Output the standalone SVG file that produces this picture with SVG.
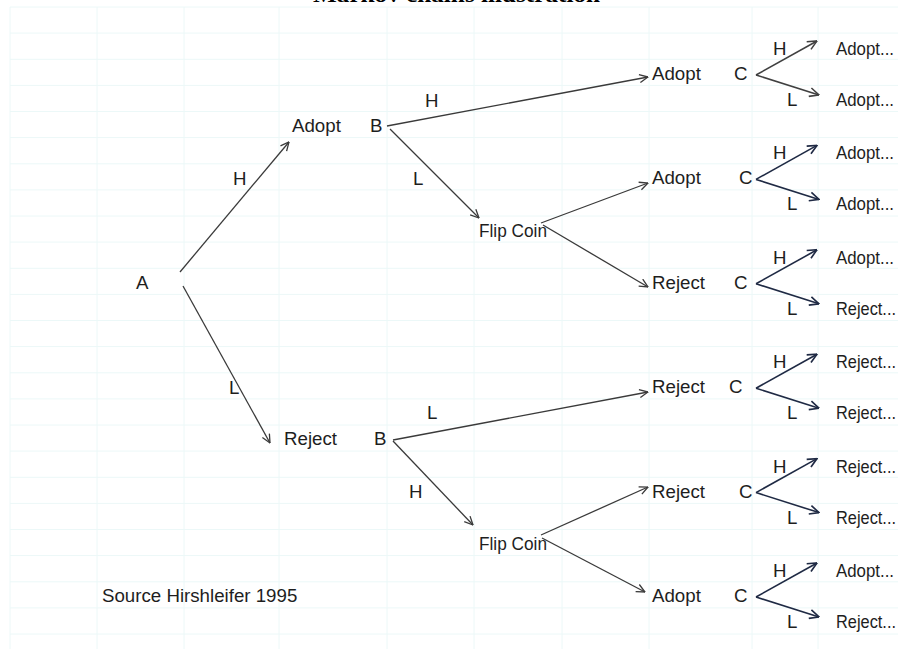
<svg xmlns="http://www.w3.org/2000/svg" width="898" height="649" viewBox="0 0 898 649">
<style>
  text { font-family: "Liberation Sans", Arial, sans-serif; font-size: 18.7px; fill: #1e1e1e; }
  .title { font-family: "Liberation Serif", "Times New Roman", serif; font-size: 24px; font-weight: bold; fill: #000; }
  .grid line { stroke: #ecf8f8; stroke-width: 1; }
  .edge { stroke: #3a3a3a; stroke-width: 1.3; fill: none; marker-end: url(#arr); }
  .fan { stroke: #1f2a44; stroke-width: 1.6; fill: none; marker-end: url(#arr2); }
  .fan1 { stroke: #404040; stroke-width: 1.5; fill: none; marker-end: url(#arr3); }
</style>
<defs>
  <marker id="arr" viewBox="0 0 10 10" refX="9.5" refY="5" markerWidth="10" markerHeight="10" markerUnits="userSpaceOnUse" orient="auto">
    <path d="M1,1 L9.5,5 L1,9" fill="none" stroke="#3a3a3a" stroke-width="1.3"/>
  </marker>
  <marker id="arr2" viewBox="0 0 10 10" refX="9.5" refY="5" markerWidth="11" markerHeight="11" markerUnits="userSpaceOnUse" orient="auto">
    <path d="M1,1 L9.5,5 L1,9" fill="none" stroke="#1f2a44" stroke-width="1.5"/>
  </marker>
  <marker id="arr3" viewBox="0 0 10 10" refX="9.5" refY="5" markerWidth="11" markerHeight="11" markerUnits="userSpaceOnUse" orient="auto">
    <path d="M1,1 L9.5,5 L1,9" fill="none" stroke="#404040" stroke-width="1.4"/>
  </marker>
</defs>
<rect width="898" height="649" fill="#ffffff"/>
<g class="grid">
  <line x1="10" y1="7" x2="10" y2="649"/>
  <line x1="97" y1="7" x2="97" y2="649"/>
  <line x1="184" y1="7" x2="184" y2="649"/>
  <line x1="279" y1="7" x2="279" y2="649"/>
  <line x1="387" y1="7" x2="387" y2="649"/>
  <line x1="474" y1="7" x2="474" y2="649"/>
  <line x1="562" y1="7" x2="562" y2="649"/>
  <line x1="649" y1="7" x2="649" y2="649"/>
  <line x1="752" y1="7" x2="752" y2="649"/>
  <line x1="818" y1="7" x2="818" y2="649"/>
  <line x1="10" y1="7" x2="898" y2="7"/>
  <line x1="10" y1="33.1" x2="898" y2="33.1"/>
  <line x1="10" y1="59.3" x2="898" y2="59.3"/>
  <line x1="10" y1="85.4" x2="898" y2="85.4"/>
  <line x1="10" y1="111.5" x2="898" y2="111.5"/>
  <line x1="10" y1="137.6" x2="898" y2="137.6"/>
  <line x1="10" y1="163.8" x2="898" y2="163.8"/>
  <line x1="10" y1="189.9" x2="898" y2="189.9"/>
  <line x1="10" y1="216" x2="898" y2="216"/>
  <line x1="10" y1="242.1" x2="898" y2="242.1"/>
  <line x1="10" y1="268.3" x2="898" y2="268.3"/>
  <line x1="10" y1="294.4" x2="898" y2="294.4"/>
  <line x1="10" y1="320.5" x2="898" y2="320.5"/>
  <line x1="10" y1="346.6" x2="898" y2="346.6"/>
  <line x1="10" y1="372.8" x2="898" y2="372.8"/>
  <line x1="10" y1="398.9" x2="898" y2="398.9"/>
  <line x1="10" y1="425" x2="898" y2="425"/>
  <line x1="10" y1="451.1" x2="898" y2="451.1"/>
  <line x1="10" y1="477.3" x2="898" y2="477.3"/>
  <line x1="10" y1="503.4" x2="898" y2="503.4"/>
  <line x1="10" y1="529.5" x2="898" y2="529.5"/>
  <line x1="10" y1="555.6" x2="898" y2="555.6"/>
  <line x1="10" y1="581.8" x2="898" y2="581.8"/>
  <line x1="10" y1="607.9" x2="898" y2="607.9"/>
  <line x1="10" y1="634" x2="898" y2="634"/>
</g>
<text class="title" x="313" y="2" textLength="287" lengthAdjust="spacingAndGlyphs">Markov chains illustration</text>

<g id="connectors">
  <line class="edge" x1="180" y1="272" x2="289" y2="142"/>
  <line class="edge" x1="183" y1="286" x2="270" y2="443"/>
  <line class="edge" x1="387" y1="126" x2="648" y2="77"/>
  <line class="edge" x1="390" y1="129" x2="479" y2="218"/>
  <line class="edge" x1="541" y1="223" x2="648" y2="183"/>
  <line class="edge" x1="543" y1="225" x2="648" y2="287"/>
  <line class="edge" x1="393" y1="440" x2="648" y2="392"/>
  <line class="edge" x1="393" y1="441" x2="473" y2="525"/>
  <line class="edge" x1="541" y1="535" x2="648" y2="487"/>
  <line class="edge" x1="542" y1="538" x2="645" y2="592"/>
  <line class="fan1" x1="756" y1="75" x2="817" y2="41"/>
  <line class="fan1" x1="756" y1="75" x2="819" y2="95"/>
  <line class="fan" x1="756" y1="179.4" x2="817" y2="145.4"/>
  <line class="fan" x1="756" y1="179.4" x2="819" y2="199.4"/>
  <line class="fan" x1="756" y1="283.8" x2="817" y2="249.8"/>
  <line class="fan" x1="756" y1="283.8" x2="819" y2="303.8"/>
  <line class="fan" x1="756" y1="388.2" x2="817" y2="354.2"/>
  <line class="fan" x1="756" y1="388.2" x2="819" y2="408.2"/>
  <line class="fan" x1="756" y1="492.6" x2="817" y2="458.6"/>
  <line class="fan" x1="756" y1="492.6" x2="819" y2="512.6"/>
  <line class="fan" x1="756" y1="597" x2="817" y2="563"/>
  <line class="fan" x1="756" y1="597" x2="819" y2="617"/>
</g>

<g id="edge-labels">
  <text x="233" y="185">H</text>
  <text x="229" y="394">L</text>
  <text x="425" y="107">H</text>
  <text x="413" y="185">L</text>
  <text x="427" y="419">L</text>
  <text x="409" y="498">H</text>
</g>

<g id="node-A"><text x="136" y="289">A</text></g>
<g id="node-adopt1"><text x="292" y="132">Adopt</text><text x="370" y="132">B</text></g>
<g id="node-reject1"><text x="284" y="445">Reject</text><text x="374" y="445">B</text></g>
<g id="node-flip1"><text x="479" y="237" textLength="68" lengthAdjust="spacingAndGlyphs">Flip Coin</text></g>
<g id="node-flip2"><text x="479" y="550" textLength="68" lengthAdjust="spacingAndGlyphs">Flip Coin</text></g>

<g id="row1"><text x="652" y="80">Adopt</text><text x="734" y="80">C</text>
  <text x="773" y="55">H</text><text x="787" y="106">L</text>
  <text x="836" y="55" textLength="58" lengthAdjust="spacingAndGlyphs">Adopt...</text><text x="836" y="106" textLength="58" lengthAdjust="spacingAndGlyphs">Adopt...</text></g>
<g id="row2"><text x="652" y="184.4">Adopt</text><text x="739" y="184.4">C</text>
  <text x="773" y="159.4">H</text><text x="787" y="210.4">L</text>
  <text x="836" y="159.4" textLength="58" lengthAdjust="spacingAndGlyphs">Adopt...</text><text x="836" y="210.4" textLength="58" lengthAdjust="spacingAndGlyphs">Adopt...</text></g>
<g id="row3"><text x="652" y="288.8">Reject</text><text x="734" y="288.8">C</text>
  <text x="773" y="263.8">H</text><text x="787" y="314.8">L</text>
  <text x="836" y="263.8" textLength="58" lengthAdjust="spacingAndGlyphs">Adopt...</text><text x="836" y="314.8" textLength="60" lengthAdjust="spacingAndGlyphs">Reject...</text></g>
<g id="row4"><text x="652" y="393.2">Reject</text><text x="729" y="393.2">C</text>
  <text x="773" y="368.2">H</text><text x="787" y="419.2">L</text>
  <text x="836" y="368.2" textLength="60" lengthAdjust="spacingAndGlyphs">Reject...</text><text x="836" y="419.2" textLength="60" lengthAdjust="spacingAndGlyphs">Reject...</text></g>
<g id="row5"><text x="652" y="497.6">Reject</text><text x="739" y="497.6">C</text>
  <text x="773" y="472.6">H</text><text x="787" y="523.6">L</text>
  <text x="836" y="472.6" textLength="60" lengthAdjust="spacingAndGlyphs">Reject...</text><text x="836" y="523.6" textLength="60" lengthAdjust="spacingAndGlyphs">Reject...</text></g>
<g id="row6"><text x="652" y="602">Adopt</text><text x="734" y="602">C</text>
  <text x="773" y="577">H</text><text x="787" y="628">L</text>
  <text x="836" y="577" textLength="58" lengthAdjust="spacingAndGlyphs">Adopt...</text><text x="836" y="628" textLength="60" lengthAdjust="spacingAndGlyphs">Reject...</text></g>

<g id="source"><text x="102" y="602">Source Hirshleifer 1995</text></g>
</svg>
